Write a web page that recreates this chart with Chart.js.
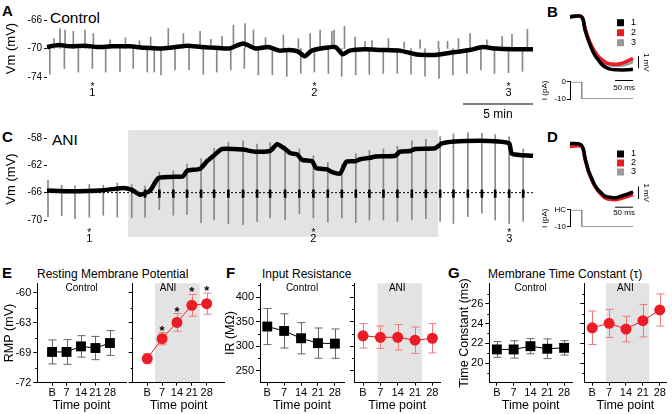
<!DOCTYPE html>
<html>
<head>
<meta charset="utf-8">
<title>ANI recordings</title>
<script src="https://cdn.jsdelivr.net/npm/chart.js@4.4.1/dist/chart.umd.min.js"></script>
<style>
  html, body { margin: 0; padding: 0; background: #fff; }
  body { position: relative; width: 672px; height: 414px; overflow: hidden;
         font-family: 'Liberation Sans', Arial, sans-serif; color: #000; }
  canvas { position: absolute; }
  .txt { position: absolute; white-space: nowrap; line-height: 1; }
  .letter { font-weight: bold; font-size: 15px; }
  .trace-name { font-size: 15.5px; }
  .title { font-size: 12px; }
</style>
</head>
<body>
<div class="txt letter" style="left:2px;top:3px">A</div>
<div class="txt letter" style="left:547px;top:4px">B</div>
<div class="txt letter" style="left:2px;top:129px">C</div>
<div class="txt letter" style="left:547px;top:129px">D</div>
<div class="txt letter" style="left:2px;top:265px">E</div>
<div class="txt letter" style="left:226px;top:265px">F</div>
<div class="txt letter" style="left:448px;top:265px">G</div>
<div class="txt trace-name" style="left:50px;top:10px">Control</div>
<div class="txt trace-name" style="left:52px;top:132px">ANI</div>
<div class="txt title" style="left:37px;top:268px">Resting Membrane Potential</div>
<div class="txt title" style="left:262px;top:268px">Input Resistance</div>
<div class="txt title" style="left:488px;top:268px">Membrane Time Constant (τ)</div>

<script>
// ─── DATA ────────────────────────────────────────────────────────────────────
// A: control recording (time in min, Vm in mV)
const A_BASE_T = [0, 0.5, 0.9, 1.6, 2.7, 3.6, 4.6, 5.9, 7.0, 8.1, 8.8, 10.0, 11.0, 12.0, 13.0, 14.0, 14.9, 15.8, 16.6, 17.3,
                  17.9, 18.4, 18.9, 19.9, 20.6, 21.1, 21.6, 22.7, 23.8, 25.2, 26.3, 27.0, 27.7, 28.8, 30.2, 31.1, 32.0, 33.3, 34.7];
const A_BASE_V = [-69.8, -69.6, -69.5, -69.7, -69.6, -69.8, -69.7, -69.7, -69.9, -70.0, -69.9, -69.6, -69.8, -69.9, -70.0, -69.3, -70.0, -69.8, -70.3, -70.2,
                  -70.4, -71.1, -70.3, -69.9, -69.8, -70.8, -70.3, -70.1, -70.2, -70.3, -70.8, -70.9, -70.9, -70.6, -70.2, -69.8, -70.0, -70.1, -70.1];
// test pulses (downward deflections)
const A_DOWN_T = [0.2, 1.24, 2.24, 3.24, 4.19, 5.21, 6.16, 7.16, 7.66, 8.14, 9.14, 10.14, 11.16, 12.12, 13.12, 14.09, 15.09, 16.09,
                  17.12, 18.12, 19.09, 20.09, 21.04, 22.04, 23.01, 24.01, 25.01, 25.99, 26.99, 27.99, 28.98, 29.98, 30.98, 31.95, 32.95, 33.95];
const A_DOWN_V = [-73.6, -72.8, -73.3, -72.8, -73.3, -73.3, -72.8, -73.3, -73.3, -73.7, -73.0, -73.0, -73.6, -73.3, -73.0, -72.8, -73.7, -73.7,
                  -73.9, -73.5, -73.3, -73.5, -73.9, -73.7, -73.6, -73.5, -73.5, -73.6, -73.9, -74.2, -73.7, -73.5, -73.0, -73.5, -73.4, -73.2];
// spontaneous upward events
const A_UP_T = [0.5, 0.93, 1.29, 1.88, 2.71, 3.31, 4.5, 5.6, 6.6, 7.4, 8.66, 9.74, 10.93, 11.7, 12.5, 13.31, 14.14, 14.74, 15.6, 16.88,
                17.95, 18.79, 19.5, 20.34, 20.5, 21.24, 22.0, 22.71, 23.2, 24.38, 25.5, 26.64, 27.95, 28.6, 29.38, 30.21, 31.41, 32.5, 33.2, 34.3];
const A_UP_V = [-68.6, -67.2, -67.4, -67.6, -67.4, -67.9, -68.8, -68.5, -68.9, -68.4, -67.2, -67.9, -67.6, -68.7, -68.3, -66.7, -66.5, -67.4, -68.5, -68.1,
                -68.6, -67.9, -67.4, -67.6, -67.4, -66.9, -68.4, -69.0, -68.9, -68.6, -69.1, -68.8, -69.0, -69.0, -68.6, -67.9, -68.8, -68.3, -68.0, -67.3];
const A_MARK_T = [3.24, 19.09, 32.95];

// C: ANI recording
const C_BASE_T = [0, 1.64, 3.79, 5.43, 6.07, 6.64, 7.36, 7.93, 8.79, 9.71, 10.0, 10.93, 11.43, 12.0, 12.5, 14.0, 14.86, 15.93, 16.43, 17.0,
                  17.36, 17.86, 18.21, 18.93, 19.21, 20.0, 20.36, 20.93, 21.36, 22.0, 22.36, 23.07, 23.43, 24.86, 25.2, 25.93, 26.3, 27.7, 28.2, 29.1,
                  30.8, 32.2, 33.0, 33.2, 34.7];
const C_BASE_V = [-65.7, -65.8, -65.7, -65.3, -65.6, -66.3, -65.7, -63.9, -63.7, -63.6, -62.8, -62.5, -61.4, -60.4, -59.6, -59.7, -60.0, -59.9, -58.9, -59.6,
                  -60.2, -60.4, -61.2, -61.4, -62.4, -62.6, -63.0, -63.2, -61.5, -61.4, -61.1, -60.9, -60.7, -60.6, -60.0, -59.9, -59.6, -59.5, -58.8, -58.5,
                  -58.4, -58.5, -58.8, -60.3, -60.6];
const C_SPK_T  = [0.07, 1.05, 2.0, 3.02, 4.02, 5.02, 6.05, 7.0, 8.02, 9.02, 10.0, 11.0, 11.93, 12.95, 14.0, 15.0, 15.93, 17.0,
                  18.02, 19.02, 20.05, 21.05, 22.05, 23.02, 24.02, 25.02, 26.05, 27.05, 28.07, 29.02, 30.05, 31.05, 32.0, 33.0, 34.0];
const C_SPK_LO = [-69.5, -69.4, -69.8, -69.6, -69.3, -69.6, -69.7, -69.6, -68.5, -69.3, -69.2, -70.4, -70.0, -70.5, -70.7, -70.2, -69.7, -70.0,
                  -69.1, -69.7, -70.3, -69.7, -70.4, -70.0, -70.0, -70.2, -70.0, -69.8, -70.2, -70.5, -69.5, -69.0, -70.0, -70.5, -70.2];
const C_SPK_HI = [-64.2, -64.9, -65.0, -64.8, -64.9, -64.6, -64.8, -65.0, -63.0, -62.8, -61.8, -61.0, -59.5, -58.6, -58.4, -58.9, -58.7, -59.2,
                  -59.6, -60.6, -61.6, -61.9, -60.3, -59.8, -59.6, -59.2, -58.4, -58.2, -57.8, -57.4, -57.2, -57.3, -57.5, -57.8, -59.6];
const C_HOLD_V = -66;          // holding level (dotted line)
const C_HOLD_FROM = 7;         // holding current applied from this pulse on
const C_ANI = [5.79, 27.93];   // drug application, min
const C_MARK_T = [3.02, 19.02, 33.0];

// B / D: averaged voltage responses (ms, mV from baseline)
const INSET_T = [0, 32, 42, 51, 60, 69, 79, 88, 97, 106, 116, 130, 144, 160, 176];
const B_1 = [0, 0, -1.1, -1.94, -2.64, -3.19, -3.6, -3.94, -4.17, -4.3, -4.39, -4.42, -4.44, -4.42, -4.38];
const B_2 = [0, 0, -0.95, -1.8, -2.4, -2.9, -3.3, -3.55, -3.75, -3.89, -3.94, -3.97, -3.89, -3.7, -3.47];
const B_3 = [0, 0, -1.0, -1.85, -2.5, -3.0, -3.4, -3.66, -3.85, -3.97, -4.03, -4.05, -4.03, -3.9, -3.75];
const D_1 = [0.05, -0.1, -1.12, -2.08, -2.72, -3.28, -3.68, -3.92, -4.16, -4.24, -4.28, -4.3, -4.16, -4.02, -3.82];
const D_2 = [-0.2, -0.2, -1.2, -2.15, -2.8, -3.36, -3.78, -4.06, -4.3, -4.4, -4.44, -4.45, -4.35, -4.2, -4.05];
const D_3 = [0, -0.15, -1.15, -2.1, -2.75, -3.3, -3.72, -3.98, -4.2, -4.3, -4.34, -4.36, -4.22, -4.08, -3.9];
const INSET_KEYS = ['1', '2', '3'];
const STEP_T = [0, 33, 33, 176];
const STEP_I = [0, 0, -10, -10];
const STEP_TICKS = [-10, 0];

// E / F / G: group means ± error
const TIME_LABELS = ['B', '7', '14', '21', '28'];
const TIME_POS = [0, 1, 2, 3, 4];
const E_CTRL = [-67.9, -67.9, -67.16, -67.38, -66.71];
const E_CTRL_ERR = [1.6, 1.65, 1.43, 1.55, 1.65];
const E_ANI = [-68.8, -66.13, -63.96, -61.69, -61.47];
const E_ANI_ERR = [0.67, 0.82, 1.18, 1.45, 1.4];
const E_SIG = [false, true, true, true, true];
const E_YTICKS = [-72, -68, -64, -60];
const E_YLABELS = ['-72', '-69', '-63', '-60'];
const F_CTRL = [340, 331, 316, 306, 305];
const F_CTRL_ERR = [37, 35, 32, 31, 30];
const F_ANI = [321, 318, 318, 312, 316];
const F_ANI_ERR = [25, 23, 26, 27, 30];
const F_YTICKS = [250, 300, 350, 400];
const G_CTRL = [21.38, 21.38, 21.71, 21.45, 21.54];
const G_CTRL_ERR = [0.8, 0.88, 0.77, 1.0, 0.73];
const G_ANI = [23.58, 24.03, 23.45, 24.3, 25.39];
const G_ANI_ERR = [1.7, 1.43, 1.3, 1.65, 1.63];
const G_YTICKS = [20, 22, 24, 26];

// ─── STYLE ───────────────────────────────────────────────────────────────────
const FONT = "'Liberation Sans', Arial, sans-serif";
const SHADE = '#e3e3e3';
const RED = '#ec1c24';
const RED_ERR = '#f07a7a';
const TRACE_GREY = '#888';
const INSET_COLORS = ['#000000', RED, '#9a9a9a'];

Chart.defaults.font.family = FONT;
Chart.defaults.color = '#000';
Chart.defaults.animation = false;
Chart.defaults.plugins.legend.display = false;
Chart.defaults.plugins.tooltip.enabled = false;

function mk(left, top, w, h) {
    const c = document.createElement('canvas');
    c.width = w; c.height = h;
    c.style.left = left + 'px'; c.style.top = top + 'px';
    c.style.width = w + 'px'; c.style.height = h + 'px';
    document.body.appendChild(c);
    return c;
}

const pts = (xs, ys) => xs.map((x, i) => ({ x, y: ys[i] }));

// ─── PLUGINS ─────────────────────────────────────────────────────────────────
// grey band for the drug period, x in data units
const shadePlugin = {
    id: 'shade',
    beforeDraw(chart, args, o) {
        if (!o || o.from == null) return;
        const { ctx, chartArea: a, scales: { x } } = chart;
        const x0 = x.getPixelForValue(o.from);
        const x1 = x.getPixelForValue(o.to);
        const over = o.over || 0, under = o.under || 0;
        ctx.save();
        ctx.fillStyle = SHADE;
        ctx.fillRect(x0, a.top - over, x1 - x0, a.bottom - a.top + over + under);
        ctx.restore();
    }
};

// error bars + significance stars
const errorBarPlugin = {
    id: 'errorBars',
    beforeDatasetsDraw(chart) {
        const { ctx, scales: { x, y } } = chart;
        chart.data.datasets.forEach(ds => {
            if (!ds.errors) return;
            ctx.save();
            ctx.strokeStyle = ds.errorColor;
            ctx.lineWidth = 1;
            ds.data.forEach((p, i) => {
                const px = Math.round(x.getPixelForValue(p.x)) + 0.5;
                const hi = y.getPixelForValue(p.y + ds.errors[i]);
                const lo = y.getPixelForValue(p.y - ds.errors[i]);
                ctx.beginPath();
                ctx.moveTo(px, hi); ctx.lineTo(px, lo);
                ctx.moveTo(px - 4, hi); ctx.lineTo(px + 4, hi);
                ctx.moveTo(px - 4, lo); ctx.lineTo(px + 4, lo);
                ctx.stroke();
            });
            ctx.restore();
        });
    },
    afterDatasetsDraw(chart) {
        const { ctx, scales: { x, y } } = chart;
        chart.data.datasets.forEach(ds => {
            if (!ds.stars) return;
            ctx.save();
            ctx.fillStyle = '#000';
            ctx.font = 'bold 13px ' + FONT;
            ctx.textAlign = 'center';
            ctx.textBaseline = 'alphabetic';
            ds.data.forEach((p, i) => {
                if (!ds.stars[i]) return;
                ctx.fillText('*', x.getPixelForValue(p.x), y.getPixelForValue(p.y + ds.errors[i]) + 2);
            });
            ctx.restore();
        });
    }
};

// short minor ticks on the y axis
const minorTickPlugin = {
    id: 'minorTicks',
    afterDraw(chart, args, o) {
        if (!o || !o.values) return;
        const { ctx, chartArea: a, scales: { y } } = chart;
        ctx.save();
        ctx.strokeStyle = '#000';
        ctx.lineWidth = 1;
        o.values.forEach(v => {
            const py = Math.round(y.getPixelForValue(v)) + 0.5;
            ctx.beginPath();
            ctx.moveTo(a.left - 2, py);
            ctx.lineTo(a.left, py);
            ctx.stroke();
        });
        ctx.restore();
    }
};

// small group name at the top of a sub-plot
const tagPlugin = {
    id: 'tag',
    afterDraw(chart, args, o) {
        if (!o || !o.text) return;
        const { ctx, chartArea: a, scales: { x } } = chart;
        const cx = o.at != null ? x.getPixelForValue(o.at) : (a.left + a.right) / 2;
        ctx.save();
        ctx.fillStyle = '#000';
        ctx.font = '10px ' + FONT;
        ctx.textAlign = 'center';
        ctx.textBaseline = 'middle';
        ctx.fillText(o.text, cx, a.top + 5);
        ctx.restore();
    }
};

Chart.register(shadePlugin, errorBarPlugin, minorTickPlugin, tagPlugin);

// ─── A / C: LONG RECORDINGS ──────────────────────────────────────────────────
function traceMarks(times, starY, numY, withScaleBar) {
    return {
        id: 'traceMarks',
        afterDatasetsDraw(chart) {
            const { ctx, scales: { x } } = chart;
            ctx.save();
            ctx.fillStyle = '#000';
            ctx.textAlign = 'center';
            ctx.textBaseline = 'middle';
            times.forEach((t, i) => {
                const px = x.getPixelForValue(t);
                ctx.font = '10px ' + FONT;
                ctx.fillText('*', px, starY + 2);
                ctx.font = '11px ' + FONT;
                ctx.fillText(String(i + 1), px, numY);
            });
            if (withScaleBar) {
                const x1 = x.getPixelForValue(x.max);
                const x0 = x.getPixelForValue(x.max - 5);
                ctx.strokeStyle = '#555';
                ctx.lineWidth = 1.5;
                ctx.beginPath();
                ctx.moveTo(x0, 104); ctx.lineTo(x1, 104);
                ctx.stroke();
                ctx.font = '12px ' + FONT;
                ctx.fillText('5 min', (x0 + x1) / 2, 115);
            }
            ctx.restore();
        }
    };
}

function vmAxis(min, max) {
    return {
        min, max,
        afterFit: s => { s.width = 47; },
        ticks: { stepSize: 4, font: { size: 10 }, padding: 2 },
        grid: { drawOnChartArea: false, tickLength: 3, color: '#000' },
        border: { display: false },
        title: { display: true, text: 'Vm (mV)', font: { size: 13 }, padding: { top: 4, bottom: 0 } }
    };
}

const spike = { type: 'bar', backgroundColor: TRACE_GREY, barThickness: 1, grouped: false, clip: false };
const trace = { borderColor: '#000', borderWidth: 4.5, pointRadius: 0, tension: 0.2, clip: false, borderJoinStyle: 'round' };

new Chart(mk(0, 0, 540, 125), {
    type: 'line',
    data: {
        datasets: [
            { ...trace, data: pts(A_BASE_T, A_BASE_V) },
            { ...spike, data: A_UP_T.map((t, i) => ({ x: t, y: [-70, A_UP_V[i]] })) },
            { ...spike, data: A_DOWN_T.map((t, i) => ({ x: t, y: [A_DOWN_V[i], -70] })) }
        ]
    },
    options: {
        responsive: false,
        layout: { padding: { left: 0, right: 7, top: 20, bottom: 48 } },
        scales: {
            x: { type: 'linear', min: 0, max: 34.7, offset: false, display: false },
            y: vmAxis(-74, -66)
        }
    },
    plugins: [traceMarks(A_MARK_T, 85, 93, true)]
});

const holdT = C_SPK_T.filter(t => t >= C_HOLD_FROM);
new Chart(mk(0, 110, 540, 145), {
    type: 'line',
    data: {
        datasets: [
            { ...trace, data: pts(C_BASE_T, C_BASE_V) },
            { type: 'bar', backgroundColor: '#000', barThickness: 2, grouped: false, clip: false,
              data: holdT.map(t => ({ x: t, y: [C_HOLD_V - 0.7, C_HOLD_V + 0.4] })) },
            { data: [{ x: 0, y: C_HOLD_V }, { x: 34.7, y: C_HOLD_V }], borderColor: '#000', borderWidth: 1,
              borderDash: [2, 2], pointRadius: 0, clip: false },
            { ...spike, data: C_SPK_T.map((t, i) => ({ x: t, y: [C_SPK_LO[i], C_SPK_HI[i]] })) }
        ]
    },
    options: {
        responsive: false,
        layout: { padding: { left: 0, right: 7, top: 28, bottom: 35 } },
        scales: {
            x: { type: 'linear', min: 0, max: 34.7, offset: false, display: false },
            y: vmAxis(-70, -58)
        },
        plugins: { shade: { from: C_ANI[0], to: C_ANI[1], over: 8, under: 17 } }
    },
    plugins: [traceMarks(C_MARK_T, 121, 129, false)]
});

// ─── B / D: INSETS ───────────────────────────────────────────────────────────
function insetTrace(top, height, pad, yMin, yMax, series, legendY, mvBar) {
    return new Chart(mk(540, top, 132, height), {
        type: 'line',
        data: {
            datasets: series.map((v, i) => ({
                data: pts(INSET_T, v), borderColor: INSET_COLORS[i], borderWidth: 3.5,
                pointRadius: 0, tension: 0.35, clip: false
            }))
        },
        options: {
            responsive: false,
            layout: { padding: pad },
            scales: {
                x: { type: 'linear', min: 0, max: 176, display: false },
                y: { min: yMin, max: yMax, display: false }
            }
        },
        plugins: [{
            id: 'insetDecor',
            afterDatasetsDraw(chart) {
                const { ctx, scales: { y } } = chart;
                ctx.save();
                ctx.font = '9px ' + FONT;
                ctx.textBaseline = 'middle';
                INSET_KEYS.forEach((k, i) => {
                    ctx.fillStyle = INSET_COLORS[i];
                    ctx.fillRect(77, legendY[i] - top - 3.5, 7, 7);
                    ctx.fillStyle = '#000';
                    ctx.fillText(k, 91, legendY[i] - top);
                });
                const y0 = y.getPixelForValue(mvBar[0]);
                const y1 = y.getPixelForValue(mvBar[1]);
                ctx.strokeStyle = '#000';
                ctx.lineWidth = 1;
                ctx.beginPath();
                ctx.moveTo(98.5, y0); ctx.lineTo(98.5, y1);
                ctx.stroke();
                ctx.translate(106, (y0 + y1) / 2);
                ctx.rotate(Math.PI / 2);
                ctx.textAlign = 'center';
                ctx.font = '8px ' + FONT;
                ctx.fillText('1 mV', 0, 0);
                ctx.restore();
            }
        }]
    });
}

function insetStep(top, tickLabels, padTop, padBot, barY, textY) {
    return new Chart(mk(540, top, 132, 30), {
        type: 'line',
        data: { datasets: [{ data: pts(STEP_T, STEP_I), borderColor: '#777', borderWidth: 1.3, pointRadius: 0 }] },
        options: {
            responsive: false,
            layout: { padding: { left: 0, right: 39, top: padTop, bottom: padBot } },
            scales: {
                x: { type: 'linear', min: 0, max: 176, display: false },
                y: {
                    min: -10, max: 0,
                    afterFit: s => { s.width = 30; },
                    afterBuildTicks: s => { s.ticks = STEP_TICKS.map(v => ({ value: v })); },
                    ticks: { callback: (v, i) => tickLabels[i], font: { size: 8 }, padding: 1 },
                    grid: { drawOnChartArea: false, tickLength: 3, color: '#000' },
                    border: { color: '#000' },
                    title: { display: true, text: 'I (pA)', font: { size: 8 }, padding: 0 }
                }
            }
        },
        plugins: [{
            id: 'msBar',
            afterDraw(chart) {
                const { ctx, scales: { x } } = chart;
                const x0 = x.getPixelForValue(126), x1 = x.getPixelForValue(176);
                ctx.save();
                ctx.strokeStyle = '#000';
                ctx.lineWidth = 1;
                ctx.beginPath();
                ctx.moveTo(x0, barY + 0.5); ctx.lineTo(x1, barY + 0.5);
                ctx.stroke();
                ctx.fillStyle = '#000';
                ctx.font = '8px ' + FONT;
                ctx.textAlign = 'center';
                ctx.textBaseline = 'middle';
                ctx.fillText('50 ms', (x0 + x1) / 2, textY);
                ctx.restore();
            }
        }]
    });
}

insetTrace(0, 78, { left: 30, right: 39, top: 13.1, bottom: 4.9 }, -4.7, 0.3, [B_1, B_2, B_3], [22.7, 32.7, 42.7], [-3.3, -4.3]);
insetStep(76, ['-10', '0'], 4, 7, 4, 11.3);
insetTrace(128, 80, { left: 30, right: 39, top: 9.75, bottom: 2.75 }, -4.9, 0.5, [D_1, D_2, D_3], [154, 163, 172], [-3.4, -4.4]);
insetStep(204, ['-10', 'HC'], 4.3, 7.3, 2.7, 8.3);

// ─── E / F / G: GROUP PLOTS ──────────────────────────────────────────────────
function groupPlot(cfg) {
    return new Chart(mk(cfg.left, 270, cfg.width, 144), {
        type: 'line',
        data: {
            datasets: [{
                data: pts(TIME_POS, cfg.values),
                errors: cfg.errors,
                errorColor: cfg.errColor,
                stars: cfg.stars,
                borderColor: cfg.color,
                borderWidth: 1,
                backgroundColor: cfg.color,
                pointStyle: cfg.marker,
                pointRadius: cfg.radius,
                pointBorderWidth: 0,
                clip: false
            }]
        },
        options: {
            responsive: false,
            layout: { padding: { left: 0, right: cfg.padRight, top: 13.3, bottom: 0 } },
            scales: {
                x: {
                    type: 'linear', min: cfg.xMin, max: cfg.xMax,
                    afterBuildTicks: s => { s.ticks = TIME_POS.map(v => ({ value: v })); },
                    afterFit: s => { s.height = 31.3; },
                    ticks: { callback: (v, i) => TIME_LABELS[i], font: { size: 11 }, padding: 1, maxRotation: 0, autoSkip: false },
                    grid: { drawOnChartArea: false, tickLength: 3, color: '#000' },
                    border: { color: '#000' },
                    title: { display: true, text: 'Time point', font: { size: 12.5 }, padding: { top: 0, bottom: 1 } }
                },
                y: {
                    min: cfg.yMin, max: cfg.yMax,
                    afterBuildTicks: s => { s.ticks = cfg.yTicks.map(v => ({ value: v })); },
                    afterFit: s => { s.width = cfg.axisW; },
                    ticks: { callback: (v, i) => cfg.yLabels ? cfg.yLabels[i] : '', font: { size: 11 }, padding: 2 },
                    grid: { drawOnChartArea: false, tickLength: 4, color: '#000' },
                    border: { color: '#000' },
                    title: { display: !!cfg.yTitle, text: cfg.yTitle || '', font: { size: 12.5 }, padding: { top: 2, bottom: 0 } }
                }
            },
            plugins: {
                shade: cfg.shade || {},
                minorTicks: { values: cfg.yMinor },
                tag: { text: cfg.tag, at: cfg.tagAt }
            }
        }
    });
}

const ctrlStyle = { color: '#000', errColor: '#666', marker: 'rect', radius: 7 };
const aniStyle  = { color: RED, errColor: RED_ERR, marker: 'circle', radius: 5.5 };

const E_Y = { yMin: -72, yMax: -58.75, yTicks: E_YTICKS, yMinor: [-70, -66, -62] };
groupPlot({ ...ctrlStyle, ...E_Y, left: 0, width: 133, axisW: 37.3, padRight: 3, xMin: -1.02, xMax: 5.11,
            values: E_CTRL, errors: E_CTRL_ERR, yLabels: E_YLABELS, yTitle: 'RMP (mV)', tag: 'Control' });
groupPlot({ ...aniStyle, ...E_Y, left: 125, width: 105, axisW: 7.7, padRight: 2, xMin: -0.98, xMax: 5.2,
            values: E_ANI, errors: E_ANI_ERR, stars: E_SIG, tag: 'ANI', tagAt: 1.4, shade: { from: 0.52, to: 3.54 } });

const F_Y = { yMin: 225, yMax: 428.5, yTicks: F_YTICKS, yMinor: [275, 325, 375, 425] };
groupPlot({ ...ctrlStyle, ...F_Y, left: 221, width: 130, axisW: 39, padRight: 2, xMin: -0.43, xMax: 4.54,
            values: F_CTRL, errors: F_CTRL_ERR, yLabels: F_YTICKS.map(String), yTitle: 'IR (MΩ)', tag: 'Control' });
groupPlot({ ...aniStyle, ...F_Y, left: 347, width: 99, axisW: 7, padRight: 2.7, xMin: -0.52, xMax: 4.47,
            values: F_ANI, errors: F_ANI_ERR, tag: 'ANI', shade: { from: 0.84, to: 3.41 } });

const G_Y = { yMin: 18, yMax: 28.1, yTicks: G_YTICKS, yMinor: [19, 21, 23, 25, 27] };
groupPlot({ ...ctrlStyle, ...G_Y, left: 455, width: 124, axisW: 34.3, padRight: 2.3, xMin: -0.45, xMax: 4.47,
            values: G_CTRL, errors: G_CTRL_ERR, yLabels: G_YTICKS.map(String), yTitle: 'Time Constant (ms)', tag: 'Control' });
groupPlot({ ...aniStyle, ...G_Y, left: 577, width: 95, axisW: 7.3, padRight: 1, xMin: -0.47, xMax: 4.4,
            values: G_ANI, errors: G_ANI_ERR, tag: 'ANI', shade: { from: 0.81, to: 3.38 } });
</script>
</body>
</html>
